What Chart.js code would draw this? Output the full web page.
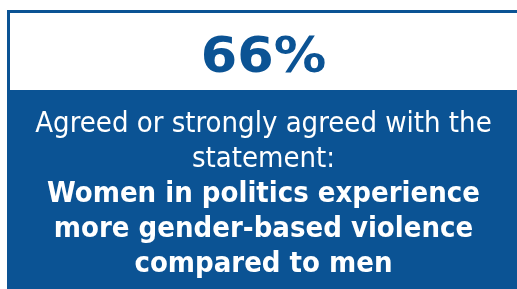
<!DOCTYPE html>
<html>
<head>
<meta charset="utf-8">
<script src="https://cdn.jsdelivr.net/npm/chart.js@4/dist/chart.umd.min.js"></script>
<style>
  html, body { margin:0; padding:0; background:#ffffff; overflow:hidden; width:517px; height:289px; }
  #wrap { position:absolute; left:7px; top:10px; width:513px; height:290px; }
  #bg { position:absolute; left:0; top:0; }
  #pct { position:absolute; left:0; top:6px; width:513px; height:80px; text-align:center;
         font-family:"DejaVu Sans", Verdana, sans-serif; font-weight:bold; font-size:49px;
         color:#0b5394; line-height:80px; transform:scaleX(1.07); transform-origin:256.5px 40px; }
  #txt { position:absolute; left:0; top:95px; width:513px; text-align:center; color:#ffffff;
         font-family:"DejaVu Sans Condensed", "DejaVu Sans", sans-serif; font-stretch:condensed;
         font-size:29px; line-height:35px; white-space:nowrap; }
  #txt b { font-weight:bold; }
</style>
</head>
<body>
<div id="wrap">
  <canvas id="bg" width="513" height="290"></canvas>
  <div id="pct"></div>
  <div id="txt"></div>
</div>
<script>
const categories = ["Agreed or strongly agreed"];
const values = [66];
const statementLines = ["Agreed or strongly agreed with the", "statement:"];
const boldLines = ["Women in politics experience", "more gender-based violence", "compared to men"];

document.getElementById('pct').textContent = values[0] + '%';
const txt = document.getElementById('txt');
txt.innerHTML = statementLines.join('<br>') + '<br><b>' + boldLines.join('<br>') + '</b>';

const BLUE = '#0b5394';
const framePlugin = {
  id: 'frame',
  beforeDraw(chart) {
    const ctx = chart.ctx;
    ctx.save();
    ctx.fillStyle = '#ffffff';
    ctx.fillRect(0, 0, chart.width, chart.height);
    ctx.strokeStyle = BLUE;
    ctx.lineWidth = 3;
    ctx.strokeRect(1.5, 1.5, chart.width + 5, 80);
    ctx.fillStyle = BLUE;
    ctx.fillRect(0, 80, chart.width, chart.height - 80);
    ctx.restore();
  }
};

new Chart(document.getElementById('bg'), {
  type: 'bar',
  data: { labels: categories, datasets: [{ data: values, backgroundColor: 'rgba(0,0,0,0)', borderWidth: 0 }] },
  options: {
    responsive: false, animation: false,
    plugins: { legend: { display: false }, tooltip: { enabled: false } },
    scales: { x: { display: false }, y: { display: false, min: 0, max: 100 } }
  },
  plugins: [framePlugin]
});
</script>
</body>
</html>
